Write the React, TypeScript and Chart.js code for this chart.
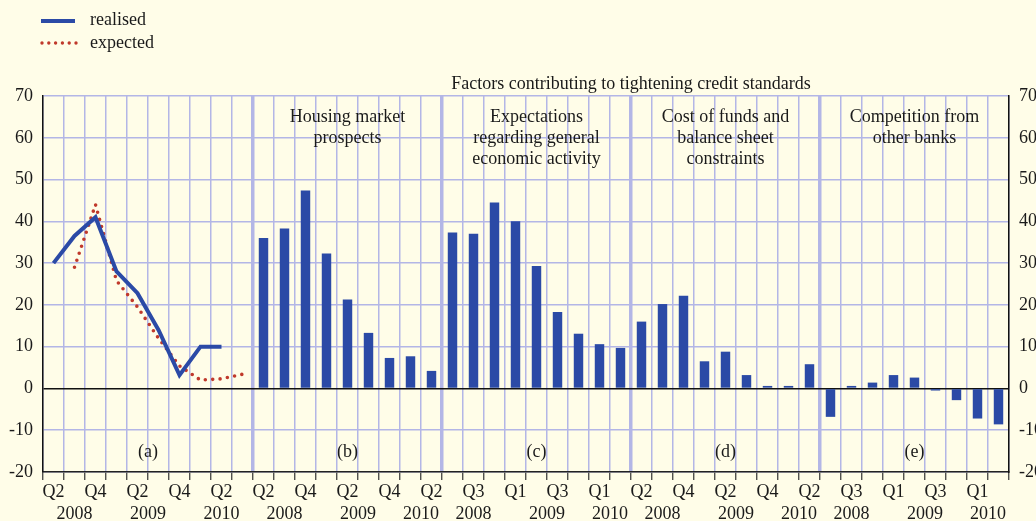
import React, { useEffect, useRef } from "react";
import { Chart, registerables } from "chart.js";

Chart.register(...registerables);

// ---- categories ----
const quartersA = ["Q2 2008", "Q3 2008", "Q4 2008", "Q1 2009", "Q2 2009", "Q3 2009", "Q4 2009", "Q1 2010", "Q2 2010", "Q3 2010"];
const quartersPanel = ["Q2 2008", "Q3 2008", "Q4 2008", "Q1 2009", "Q2 2009", "Q3 2009", "Q4 2009", "Q1 2010", "Q2 2010"];

// ---- series (panel a) ----
const realised = [30, 36.5, 41, 28, 22.8, 14, 3.2, 10, 10]; // Q2 2008 .. Q2 2010
const expected = [29, 44, 25.8, 19.5, 12, 5.4, 2, 2.3, 3.4]; // Q3 2008 .. Q3 2010

// ---- bars (panels b-e) ----
const housingMarket = [36, 38.3, 47.4, 32.3, 21.3, 13.3, 7.3, 7.7, 4.2];
const economicActivity = [37.3, 37, 44.5, 40, 29.3, 18.3, 13.1, 10.6, 9.7];
const costOfFunds = [16, 20.2, 22.2, 6.5, 8.8, 3.2, 0.6, 0.6, 5.8];
const competition = [-6.8, 0.6, 1.4, 3.2, 2.6, -0.5, -2.8, -7.2, -8.6];

// ---- texts ----
const panelLetters = ["(a)", "(b)", "(c)", "(d)", "(e)"];
const panelTitles = [
  [],
  ["Housing market", "prospects"],
  ["Expectations", "regarding general", "economic activity"],
  ["Cost of funds and", "balance sheet", "constraints"],
  ["Competition from", "other banks"],
];
const bannerTitle = "Factors contributing to tightening credit standards";
const legendLabels = ["realised", "expected"];
const yTicks = [70, 60, 50, 40, 30, 20, 10, 0, -10, -20];

const BG = "#fffde8";
const BLUE = "#2b4aa6";
const RED = "#c0392b";
const GRID = "#b3b6e6";
const TEXT = "#1a1a1a";
const FONT = "'Liberation Serif', 'Times New Roman', serif";

const panelSizes = [quartersA.length, quartersPanel.length, quartersPanel.length, quartersPanel.length, quartersPanel.length];
const labels = [...quartersA, ...quartersPanel, ...quartersPanel, ...quartersPanel, ...quartersPanel];
const barValues: (number | null)[] = [
  ...quartersA.map(() => null),
  ...housingMarket,
  ...economicActivity,
  ...costOfFunds,
  ...competition,
];
const realisedData = labels.map((_, i) => (i < realised.length ? realised[i] : null));
const expectedData = labels.map((_, i) => (i >= 1 && i <= expected.length ? expected[i - 1] : null));

const panelStarts: number[] = [];
{
  let s = 0;
  for (const n of panelSizes) {
    panelStarts.push(s);
    s += n;
  }
}
const boundaryIdx = panelStarts.slice(1);

const overlayPlugin = {
  id: "overlay",
  beforeDraw(chart: any) {
    const ctx = chart.ctx;
    ctx.save();
    ctx.fillStyle = BG;
    ctx.fillRect(0, 0, chart.width, chart.height);
    ctx.restore();
  },
  afterDraw(chart: any) {
    const ctx = chart.ctx;
    const x = chart.scales.x;
    const half = (x.getPixelForValue(1) - x.getPixelForValue(0)) / 2;
    ctx.save();
    ctx.fillStyle = TEXT;
    ctx.font = `18px ${FONT}`;
    ctx.textBaseline = "middle";

    // legend
    ctx.strokeStyle = BLUE;
    ctx.lineWidth = 3.8;
    ctx.beginPath();
    ctx.moveTo(41, 21);
    ctx.lineTo(75, 21);
    ctx.stroke();
    ctx.strokeStyle = RED;
    ctx.lineWidth = 3.4;
    ctx.lineCap = "round";
    ctx.setLineDash([0, 6.8]);
    ctx.beginPath();
    ctx.moveTo(42, 43);
    ctx.lineTo(77, 43);
    ctx.stroke();
    ctx.setLineDash([]);
    ctx.textAlign = "left";
    ctx.fillText(legendLabels[0], 90, 20);
    ctx.fillText(legendLabels[1], 90, 43);

    // banner title across panels b-e
    ctx.textAlign = "center";
    const bLeft = x.getPixelForValue(panelStarts[1]) - half;
    const eRight = x.getPixelForValue(labels.length - 1) + half;
    ctx.fillText(bannerTitle, (bLeft + eRight) / 2, 84);

    // panel titles, letters, years
    panelSizes.forEach((n, p) => {
      const s = panelStarts[p];
      const cx = (x.getPixelForValue(s) + x.getPixelForValue(s + n - 1)) / 2;
      panelTitles[p].forEach((line, k) => ctx.fillText(line, cx, 117 + k * 21));
      ctx.fillText(panelLetters[p], cx, 452);
      // years
      const groups: Record<string, number[]> = {};
      for (let i = s; i < s + n; i++) {
        const yr = labels[i].split(" ")[1];
        (groups[yr] = groups[yr] || []).push(i);
      }
      Object.keys(groups).forEach((yr) => {
        const g = groups[yr];
        const gx = (x.getPixelForValue(g[0]) + x.getPixelForValue(g[g.length - 1])) / 2;
        ctx.fillText(yr, gx, 514);
      });
    });
    ctx.restore();
  },
};

export default function App() {
  const ref = useRef<HTMLCanvasElement | null>(null);
  useEffect(() => {
    document.body.style.margin = "0";
    document.body.style.background = BG;
    const canvas = ref.current!;
    const tickFont = { family: FONT, size: 18 };
    const chart = new Chart(canvas, {
      type: "bar",
      data: {
        labels,
        datasets: [
          {
            type: "line",
            label: legendLabels[0],
            data: realisedData,
            borderColor: BLUE,
            borderWidth: 4,
            pointRadius: 0,
            spanGaps: false,
            tension: 0,
          } as any,
          {
            type: "line",
            label: legendLabels[1],
            data: expectedData,
            borderColor: RED,
            borderWidth: 3.6,
            borderDash: [0, 7.4],
            borderCapStyle: "round",
            pointRadius: 0,
            spanGaps: false,
            tension: 0,
          } as any,
          {
            type: "bar",
            label: "factors",
            data: barValues,
            backgroundColor: BLUE,
            borderWidth: 0,
            barPercentage: 0.45,
            categoryPercentage: 1,
          } as any,
        ],
      },
      options: {
        responsive: false,
        animation: false,
        devicePixelRatio: 1,
        layout: { padding: { top: 96, left: 0, right: 0, bottom: 0 } },
        plugins: { legend: { display: false }, tooltip: { enabled: false }, title: { display: false } },
        scales: {
          x: {
            type: "category",
            offset: true,
            grid: {
              offset: true,
              z: -1,
              color: GRID,
              lineWidth: (c: any) => (c.index !== undefined && boundaryIdx.includes(c.index) ? 3.5 : 1.5),
              tickColor: "#333",
              tickLength: 8,
              tickWidth: 1.2,
            },
            border: { display: true, color: "#222", width: 1.5 },
            ticks: {
              autoSkip: false,
              maxRotation: 0,
              minRotation: 0,
              padding: 1,
              color: TEXT,
              font: tickFont,
              callback: (_v: any, i: number) => (i % 2 === 0 ? labels[i].split(" ")[0] : ""),
            },
            afterFit: (s: any) => {
              s.height = 49;
            },
          },
          y: {
            position: "left",
            min: -20,
            max: 70,
            grid: {
              color: (c: any) => (c.tick && c.tick.value === 0 ? "#111" : GRID),
              lineWidth: 1.5,
              drawTicks: false,
            },
            border: { display: true, color: "#111", width: 1.5 },
            ticks: {
              stepSize: 10,
              padding: 10,
              color: TEXT,
              font: tickFont,
              callback: (v: any) => (yTicks.includes(v) ? String(v) : ""),
            },
            afterFit: (s: any) => {
              s.width = 43;
            },
          },
          y2: {
            position: "right",
            min: -20,
            max: 70,
            grid: { drawOnChartArea: false, drawTicks: false },
            border: { display: true, color: "#111", width: 1.5 },
            ticks: {
              stepSize: 10,
              padding: 10,
              color: TEXT,
              font: tickFont,
              callback: (v: any) => (yTicks.includes(v) ? String(v) : ""),
            },
            afterFit: (s: any) => {
              s.width = 27;
            },
          },
        },
      } as any,
      plugins: [overlayPlugin],
    });
    return () => chart.destroy();
  }, []);
  return (
    <div style={{ width: 1036, height: 521, position: "relative", background: BG }}>
      <canvas ref={ref} width={1036} height={521} style={{ display: "block" }} />
    </div>
  );
}
